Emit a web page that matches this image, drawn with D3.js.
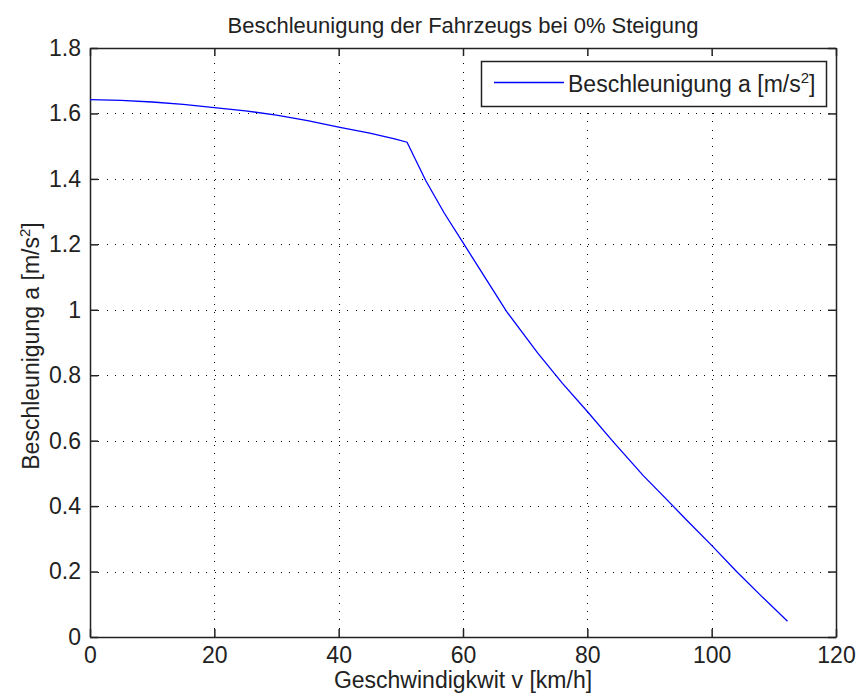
<!DOCTYPE html>
<html>
<head>
<meta charset="utf-8">
<script src="https://cdn.jsdelivr.net/npm/d3@7"></script>
<style>
  body { margin: 0; background: #fff; }
  svg { display: block; }
  text { font-family: "Liberation Sans", Arial, Helvetica, sans-serif; fill: #222; }
</style>
</head>
<body>
<svg id="chart"></svg>
<script>
'use strict';
// speed in km/h, acceleration in m/s^2
var speed = [0, 5, 10, 15, 20, 25, 30, 35, 40, 45, 49, 51, 54, 57, 60, 63, 67, 72, 76, 80, 84, 89, 92, 96, 100, 104, 108, 112.2];
var accel = [1.642, 1.640, 1.635, 1.628, 1.618, 1.608, 1.595, 1.578, 1.558, 1.540, 1.522, 1.512, 1.395, 1.295, 1.205, 1.115, 0.995, 0.868, 0.775, 0.689, 0.600, 0.493, 0.435, 0.357, 0.280, 0.200, 0.125, 0.048];
var xTicks = [0, 20, 40, 60, 80, 100, 120];
var yTicks = [0, 0.2, 0.4, 0.6, 0.8, 1, 1.2, 1.4, 1.6, 1.8];
var title = 'Beschleunigung der Fahrzeugs bei 0% Steigung';
var xTitle = 'Geschwindigkwit v [km/h]';
var seriesName = 'Beschleunigung a [m/s';

var width = 856, height = 697;
var pLeft = 90, pRight = 836, pTop = 48, pBottom = 637;
var tickLen = 8;
var font = '"Liberation Sans", Arial, sans-serif';

var svg = d3.select('#chart').attr('width', width).attr('height', height);

var x = d3.scaleLinear().domain([0, 120]).range([pLeft, pRight]);
var y = d3.scaleLinear().domain([0, 1.8]).range([pBottom, pTop]);

// grid
var grid = svg.append('g')
    .attr('stroke', '#000')
    .attr('stroke-width', 1)
    .attr('stroke-dasharray', '1,7.3')
    .attr('shape-rendering', 'crispEdges');
grid.selectAll('.gx')
    .data(xTicks.slice(1, -1))
    .enter().append('line')
    .attr('x1', function(d){return Math.round(x(d)) + 0.5;})
    .attr('x2', function(d){return Math.round(x(d)) + 0.5;})
    .attr('y1', pBottom).attr('y2', pTop);
grid.selectAll('.gy')
    .data(yTicks.slice(1, -1))
    .enter().append('line')
    .attr('y1', function(d){return Math.round(y(d)) + 0.5;})
    .attr('y2', function(d){return Math.round(y(d)) + 0.5;})
    .attr('x1', pLeft).attr('x2', pRight);

// axes with inward ticks
var fmt = function(d){return String(+d.toFixed(1));};
var xAxis = d3.axisBottom(x).tickValues(xTicks).tickSizeInner(-tickLen).tickSizeOuter(0).tickPadding(10).tickFormat(fmt);
var xAxisTop = d3.axisTop(x).tickValues(xTicks).tickSizeInner(-tickLen).tickSizeOuter(0).tickFormat('');
var yAxis = d3.axisLeft(y).tickValues(yTicks).tickSizeInner(-tickLen).tickSizeOuter(0).tickPadding(9).tickFormat(fmt);
var yAxisRight = d3.axisRight(y).tickValues(yTicks).tickSizeInner(-tickLen).tickSizeOuter(0).tickFormat('');

function styleAxis(g){
    g.selectAll('path, line').attr('stroke', '#222').attr('stroke-width', 1.5);
    g.selectAll('text').attr('font-size', 23).attr('fill', '#222')
        .attr('font-family', font);
}
svg.append('g').attr('transform', 'translate(0,' + pBottom + ')').call(xAxis).call(styleAxis);
svg.append('g').attr('transform', 'translate(0,' + pTop + ')').call(xAxisTop).call(styleAxis);
svg.append('g').attr('transform', 'translate(' + pLeft + ',0)').call(yAxis).call(styleAxis);
svg.append('g').attr('transform', 'translate(' + pRight + ',0)').call(yAxisRight).call(styleAxis);

// curve
var line = d3.line()
    .x(function(d, i){return x(speed[i]);})
    .y(function(d){return y(d);});
svg.append('path')
    .datum(accel)
    .attr('d', line)
    .attr('fill', 'none')
    .attr('stroke', '#0000ff')
    .attr('stroke-width', 1.3);

// title and labels
svg.append('text')
    .attr('x', (pLeft + pRight) / 2).attr('y', 33)
    .attr('text-anchor', 'middle').attr('font-size', 22)
    .text(title);
svg.append('text')
    .attr('x', (pLeft + pRight) / 2).attr('y', 688)
    .attr('text-anchor', 'middle').attr('font-size', 23)
    .text(xTitle);
var yl = svg.append('text')
    .attr('transform', 'translate(39,346) rotate(-90)')
    .attr('text-anchor', 'middle').attr('font-size', 23);
yl.append('tspan').text(seriesName);
yl.append('tspan').attr('font-size', 15).attr('dy', -9).text('2');
yl.append('tspan').attr('dy', 9).text(']');

// legend
var lg = svg.append('g');
lg.append('rect')
    .attr('x', 481.5).attr('y', 61.5).attr('width', 345).attr('height', 45)
    .attr('fill', '#fff').attr('stroke', '#222').attr('stroke-width', 1.5);
lg.append('line')
    .attr('x1', 494).attr('x2', 564).attr('y1', 82.5).attr('y2', 82.5)
    .attr('stroke', '#0000ff').attr('stroke-width', 1.3);
var lt = lg.append('text').attr('x', 568).attr('y', 92).attr('font-size', 23);
lt.append('tspan').text(seriesName);
lt.append('tspan').attr('font-size', 15).attr('dy', -9).text('2');
lt.append('tspan').attr('dy', 9).text(']');
</script>
</body>
</html>
